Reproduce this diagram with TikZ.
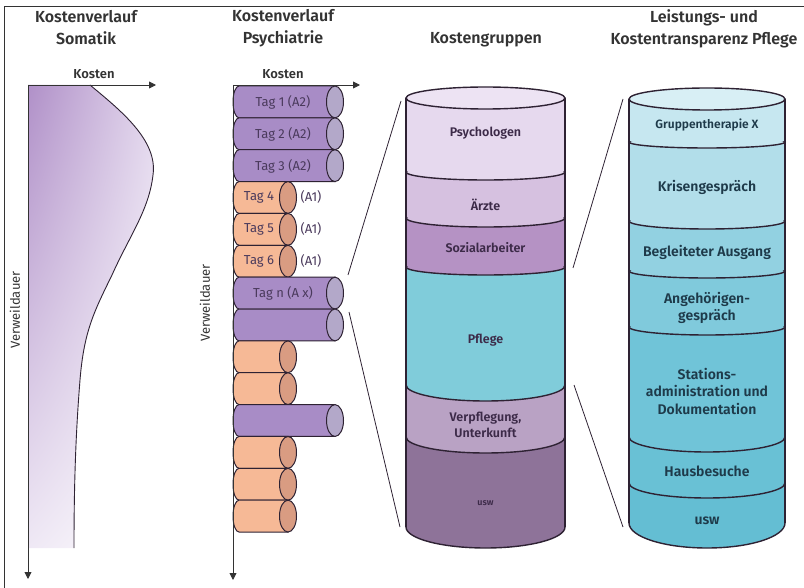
\documentclass[tikz,border=0pt]{standalone}
\usepackage{fontspec}
\setmainfont{Fira Sans}
\newfontfamily\semib{Fira Sans SemiBold}
\usetikzlibrary{arrows.meta,shadings}
\definecolor{ink}{HTML}{333333}
\definecolor{pink}{HTML}{3C2A48}
\definecolor{tink}{HTML}{4A3A5C}
\definecolor{cink}{HTML}{1E3A4A}
\definecolor{outl}{HTML}{2E2233}
\definecolor{purbody}{HTML}{A88CC6}
\definecolor{purend}{HTML}{B3A8C9}
\definecolor{orbody}{HTML}{F6B996}
\definecolor{orend}{HTML}{D99C82}
\definecolor{kpsy}{HTML}{E6D9EE}
\definecolor{kaer}{HTML}{D6C1E0}
\definecolor{ksoz}{HTML}{B592C4}
\definecolor{kpfl}{HTML}{80CCDA}
\definecolor{kver}{HTML}{B9A2C4}
\definecolor{kusw}{HTML}{8E7399}
\definecolor{ktop}{HTML}{EDE3F3}
\definecolor{rtop}{HTML}{D8EFF5}
\definecolor{r1}{HTML}{C6E7F0}
\definecolor{r2}{HTML}{B2DEEA}
\definecolor{r3}{HTML}{92D1E1}
\definecolor{r4}{HTML}{80CADC}
\definecolor{r5}{HTML}{70C4D8}
\definecolor{r6}{HTML}{69C1D5}
\definecolor{r7}{HTML}{64BED3}
\definecolor{somA}{HTML}{B090C8}
\definecolor{somB}{HTML}{E4D9EE}
\tikzset{
  title/.style={font=\semib\fontsize{16}{22}\selectfont, text=ink, align=center},
  axlabel/.style={font=\semib\fontsize{13}{14}\selectfont, text=ink},
  vlabel/.style={font=\fontsize{13}{14}\selectfont, text=ink},
  taglabel/.style={font=\fontsize{13}{14}\selectfont, text=tink},
  seclabel/.style={font=\semib\fontsize{12.5}{15.5}\selectfont, text=pink, align=center},
  rlabel/.style={font=\semib\fontsize{14}{17.5}\selectfont, text=cink, align=center},
  axis/.style={draw=ink, line width=0.9pt, -{Triangle[length=7pt,width=7pt]}},
  outline/.style={draw=outl, line width=1pt},
  bigline/.style={draw=outl, line width=1.4pt},
  link/.style={draw=outl, line width=0.8pt},
}
% horizontal cylinder: #1 top y, #2 right cap centre x, #3 body colour, #4 cap colour
\newcommand{\HCylinder}[4]{%
  \path[fill=#3, outline] (#2,#1) -- (239,#1)
     .. controls (235.69,#1) and (233,#1+7.13) .. (233,#1+15.93)
     .. controls (233,#1+24.73) and (235.69,#1+31.86) .. (239,#1+31.86)
     -- (#2,#1+31.86) -- cycle;
  \path[fill=#4, outline] (#2,#1+15.93) ellipse[x radius=8.5, y radius=15.93];
}
\begin{document}
\begin{tikzpicture}[x=1pt,y=-1pt]
\useasboundingbox (0,0) rectangle (804,588);
% frame (top and left)
\draw[ink, line width=0.9pt] (4,588) -- (4,6) -- (804,6);

% titles
\node[title] (t1) at (86,28) {Kostenverlauf\\Somatik};
\node[title] (t2) at (283,28) {Kostenverlauf\\Psychiatrie};
\node[title] (t3) at (486,40) {Kostengruppen};
\node[title] (t4) at (704,29) {Leistungs- und\\Kostentransparenz Pflege};

% ---- Somatik
\shade[upper left=somA, upper right=somB, lower left=somB!60!white, lower right=white]
  (28,85) -- (90,85) .. controls (120,110) and (158,140) .. (153,175)
  .. controls (149,210) and (130,235) .. (112,275)
  .. controls (95,310) and (84,330) .. (80,380)
  .. controls (76,430) and (74,480) .. (74,548) -- (28,548) -- cycle;
\draw[outl, line width=0.9pt] (90,85) .. controls (120,110) and (158,140) .. (153,175)
  .. controls (149,210) and (130,235) .. (112,275)
  .. controls (95,310) and (84,330) .. (80,380)
  .. controls (76,430) and (74,480) .. (74,548);
\coordinate (s0) at (28,85);
\coordinate (sx) at (156,85);
\coordinate (sy) at (28,579);
\draw[axis] (s0) -- (sx);
\draw[axis] (s0) -- (sy);
\node[axlabel] (sk) at (94,74) {Kosten};
\node[vlabel, rotate=90] (sv) at (15,310) {Verweildauer};

% ---- Psychiatrie
\HCylinder{86}{335}{purbody}{purend}
\HCylinder{117.86}{335}{purbody}{purend}
\HCylinder{149.72}{335}{purbody}{purend}
\HCylinder{181.58}{288}{orbody}{orend}
\HCylinder{213.44}{288}{orbody}{orend}
\HCylinder{245.30}{288}{orbody}{orend}
\HCylinder{277.16}{335}{purbody}{purend}
\HCylinder{309.02}{335}{purbody}{purend}
\HCylinder{340.88}{288}{orbody}{orend}
\HCylinder{372.74}{288}{orbody}{orend}
\HCylinder{404.60}{335}{purbody}{purend}
\HCylinder{436.46}{288}{orbody}{orend}
\HCylinder{468.32}{288}{orbody}{orend}
\HCylinder{500.18}{288}{orbody}{orend}
\coordinate (p0) at (233,85);
\coordinate (px) at (360,85);
\coordinate (py) at (233,580);
\draw[axis] (p0) -- (px);
\draw[axis] (p0) -- (py);
\node[axlabel] (pk) at (283,74) {Kosten};
\node[vlabel, rotate=90] (pv) at (205,303) {Verweildauer};
\node[taglabel] (d1) at (283,102) {Tag 1 (A2)};
\node[taglabel] (d2) at (283,134) {Tag 2 (A2)};
\node[taglabel] (d3) at (283,166) {Tag 3 (A2)};
\node[taglabel] (d4) at (259,197) {Tag 4};
\node[taglabel] (d5) at (259,229) {Tag 5};
\node[taglabel] (d6) at (259,261) {Tag 6};
\node[taglabel] (a4) at (311,197) {(A1)};
\node[taglabel] (a5) at (311,229) {(A1)};
\node[taglabel] (a6) at (311,261) {(A1)};
\node[taglabel] (dn) at (283,293) {Tag n (A x)};

% ---- Kostengruppen cylinder (L=406, R=565, cx=485.5, rx=79.5)
\path[fill=kusw] (485.5,527) ellipse[x radius=79.5, y radius=21];
\path[fill=kusw] (406,437) rectangle (565,527);
\path[fill=kver] (485.5,437) ellipse[x radius=79.5, y radius=16];
\path[fill=kver] (406,385) rectangle (565,437);
\path[fill=kpfl] (485.5,385) ellipse[x radius=79.5, y radius=16];
\path[fill=kpfl] (406,267) rectangle (565,385);
\path[fill=ksoz] (485.5,267) ellipse[x radius=79.5, y radius=8];
\path[fill=ksoz] (406,218) rectangle (565,267);
\path[fill=kaer] (485.5,218) ellipse[x radius=79.5, y radius=9];
\path[fill=kaer] (406,172) rectangle (565,218);
\path[fill=kpsy] (485.5,172) ellipse[x radius=79.5, y radius=8];
\path[fill=kpsy] (406,98) rectangle (565,172);
\begin{scope}
  \clip (400,172) rectangle (571,560);
  \path[bigline] (485.5,172) ellipse[x radius=79.5, y radius=8];
\end{scope}
\begin{scope}
  \clip (400,218) rectangle (571,560);
  \path[bigline] (485.5,218) ellipse[x radius=79.5, y radius=9];
\end{scope}
\begin{scope}
  \clip (400,267) rectangle (571,560);
  \path[bigline] (485.5,267) ellipse[x radius=79.5, y radius=8];
\end{scope}
\begin{scope}
  \clip (400,385) rectangle (571,560);
  \path[bigline] (485.5,385) ellipse[x radius=79.5, y radius=16];
\end{scope}
\begin{scope}
  \clip (400,437) rectangle (571,560);
  \path[bigline] (485.5,437) ellipse[x radius=79.5, y radius=16];
\end{scope}
\begin{scope}
  \clip (400,527) rectangle (571,560);
  \path[bigline] (485.5,527) ellipse[x radius=79.5, y radius=21];
\end{scope}
\path[bigline] (406,98) -- (406,527);
\path[bigline] (565,98) -- (565,527);
\path[fill=ktop, bigline] (485.5,98) ellipse[x radius=79.5, y radius=11];
\node[seclabel] (k1) at (485.5,133) {Psychologen};
\node[seclabel] (k2) at (485.5,205) {Ärzte};
\node[seclabel] (k3) at (485.5,248) {Sozialarbeiter};
\node[seclabel] (k4) at (485.5,340) {Pflege};
\node[seclabel] (k5) at (485.5,425) {Verpflegung,\\Unterkunft};
\node[seclabel, font=\semib\fontsize{9}{10}\selectfont] (k6) at (485.5,503) {usw};

% ---- Leistungs cylinder (L=629, R=785, cx=707, rx=78)
\path[fill=r7] (707,523) ellipse[x radius=78, y radius=25];
\path[fill=r7] (629,483) rectangle (785,523);
\path[fill=r6] (707,483) ellipse[x radius=78, y radius=15];
\path[fill=r6] (629,437) rectangle (785,483);
\path[fill=r5] (707,437) ellipse[x radius=78, y radius=15];
\path[fill=r5] (629,327) rectangle (785,437);
\path[fill=r4] (707,327) ellipse[x radius=78, y radius=8];
\path[fill=r4] (629,271) rectangle (785,327);
\path[fill=r3] (707,271) ellipse[x radius=78, y radius=7];
\path[fill=r3] (629,221) rectangle (785,271);
\path[fill=r2] (707,221) ellipse[x radius=78, y radius=8];
\path[fill=r2] (629,142) rectangle (785,221);
\path[fill=r1] (707,142) ellipse[x radius=78, y radius=6];
\path[fill=r1] (629,99) rectangle (785,142);
\begin{scope}
  \clip (623,142) rectangle (791,560);
  \path[bigline] (707,142) ellipse[x radius=78, y radius=6];
\end{scope}
\begin{scope}
  \clip (623,221) rectangle (791,560);
  \path[bigline] (707,221) ellipse[x radius=78, y radius=8];
\end{scope}
\begin{scope}
  \clip (623,271) rectangle (791,560);
  \path[bigline] (707,271) ellipse[x radius=78, y radius=7];
\end{scope}
\begin{scope}
  \clip (623,327) rectangle (791,560);
  \path[bigline] (707,327) ellipse[x radius=78, y radius=8];
\end{scope}
\begin{scope}
  \clip (623,437) rectangle (791,560);
  \path[bigline] (707,437) ellipse[x radius=78, y radius=15];
\end{scope}
\begin{scope}
  \clip (623,483) rectangle (791,560);
  \path[bigline] (707,483) ellipse[x radius=78, y radius=15];
\end{scope}
\begin{scope}
  \clip (623,523) rectangle (791,560);
  \path[bigline] (707,523) ellipse[x radius=78, y radius=25];
\end{scope}
\path[bigline] (629,99) -- (629,523);
\path[bigline] (785,99) -- (785,523);
\path[fill=rtop, bigline] (707,99) ellipse[x radius=78, y radius=11];
\node[rlabel, font=\semib\fontsize{12}{14}\selectfont] (l1) at (707,125) {Gruppentherapie X};
\node[rlabel] (l2) at (707,187) {Krisengespräch};
\node[rlabel] (l3) at (707,252) {Begleiteter Ausgang};
\node[rlabel] (l4) at (707,308) {Angehörigen-\\gespräch};
\node[rlabel] (l5) at (707,391) {Stations-\\administration und\\Dokumentation};
\node[rlabel] (l6) at (707,471) {Hausbesuche};
\node[rlabel] (l7) at (707,521) {usw};

% ---- connectors
\coordinate (c1a) at (348,275);
\coordinate (c1b) at (401,101);
\coordinate (c2a) at (349,312);
\coordinate (c2b) at (400,527);
\coordinate (c3a) at (573,268);
\coordinate (c3b) at (623,99);
\coordinate (c4a) at (574,385);
\coordinate (c4b) at (623,527);
\draw[link] (c1a) -- (c1b);
\draw[link] (c2a) -- (c2b);
\draw[link] (c3a) -- (c3b);
\draw[link] (c4a) -- (c4b);
\end{tikzpicture}
\end{document}
